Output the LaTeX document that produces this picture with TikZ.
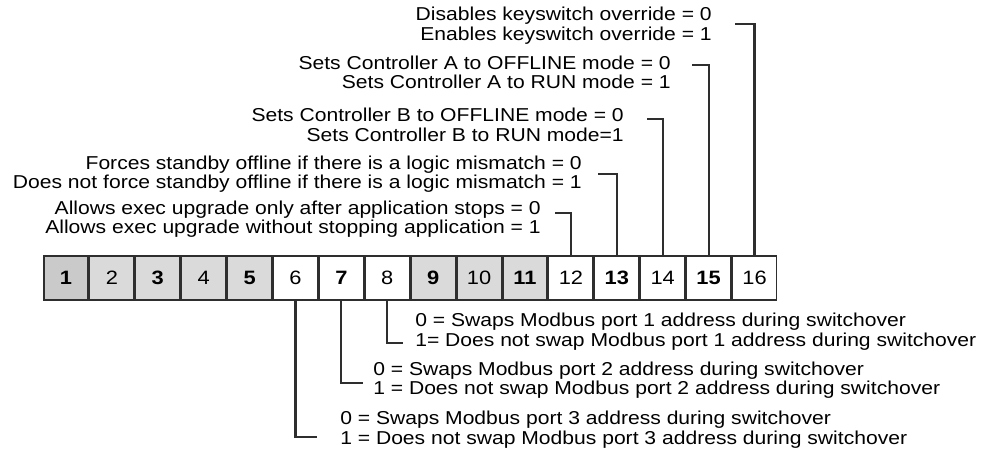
\documentclass[tikz,border=0pt]{standalone}
\usepackage{fontspec}
\setmainfont{Liberation Sans}[FakeStretch=1.13]
\usepackage{tikz}

\definecolor{bitgray}{HTML}{DADADA}
\definecolor{bitdark}{HTML}{CACACA}
\definecolor{wiregray}{HTML}{2E2E2E}

\begin{document}
\begin{tikzpicture}[x=0.75pt,y=-0.75pt,
        bit/.style = {rectangle, draw=wiregray, line width=1.1pt, fill=#1, minimum width=33.3pt, minimum height=33pt, inner sep=0pt, outer sep=0pt, font=\fontsize{14.5}{15}\selectfont},
        bit/.default = white,
        desc/.style = {inner sep=0pt, align=#1, font=\fontsize{14}{14.6}\selectfont},
        wire/.style = {draw=wiregray, line width=1.6pt},
    ]
    \useasboundingbox (0,0) rectangle (995,449);
    % bits
    \node[bit=bitdark] (c1) at (66.0,278) {\bfseries 1};
    \node[bit=bitgray] (c2) at (111.9,278) {2};
    \node[bit=bitgray] (c3) at (157.8,278) {\bfseries 3};
    \node[bit=bitgray] (c4) at (203.7,278) {4};
    \node[bit=bitgray] (c5) at (249.6,278) {\bfseries 5};
    \node[bit] (c6) at (295.5,278) {6};
    \node[bit] (c7) at (341.4,278) {\bfseries 7};
    \node[bit] (c8) at (387.3,278) {8};
    \node[bit=bitgray] (c9) at (433.2,278) {\bfseries 9};
    \node[bit=bitgray] (c10) at (479.1,278) {10};
    \node[bit=bitgray] (c11) at (525.0,278) {\bfseries 11};
    \node[bit] (c12) at (570.9,278) {12};
    \node[bit] (c13) at (616.8,278) {\bfseries 13};
    \node[bit] (c14) at (662.7,278) {14};
    \node[bit] (c15) at (708.6,278) {\bfseries 15};
    \node[bit] (c16) at (754.5,278) {16};
    % bit 16
    \node[desc=right,anchor=east] (t16) at (712,25.5) {Disables keyswitch override = 0\\Enables keyswitch override = 1};
    \coordinate (s16) at (735,24);
    \draw[wire] (c16.north) |- (s16);
    % bit 15
    \node[desc=right,anchor=east] (t15) at (671,72.5) {Sets Controller A to OFFLINE mode = 0\\Sets Controller A to RUN mode = 1};
    \coordinate (s15) at (692,65);
    \draw[wire] (c15.north) |- (s15);
    % bit 14
    \node[desc=right,anchor=east] (t14) at (624,125) {Sets Controller B to OFFLINE mode = 0\\Sets Controller B to RUN mode=1};
    \coordinate (s14) at (647,119);
    \draw[wire] (c14.north) |- (s14);
    % bit 13
    \node[desc=right,anchor=east] (t13) at (582,174) {Forces standby offline if there is a logic mismatch = 0\\Does not force standby offline if there is a logic mismatch = 1};
    \coordinate (s13) at (598,174);
    \draw[wire] (c13.north) |- (s13);
    % bit 12
    \node[desc=right,anchor=east] (t12) at (541,219) {Allows exec upgrade only after application stops = 0\\Allows exec upgrade without stopping application = 1};
    \coordinate (s12) at (555,213);
    \draw[wire] (c12.north) |- (s12);
    % bit 8
    \node[desc=left,anchor=west] (t8) at (415,331.5) {0 = Swaps Modbus port 1 address during switchover\\1= Does not swap Modbus port 1 address during switchover};
    \coordinate (s8) at (403,343);
    \draw[wire] (c8.south) |- (s8);
    % bit 7
    \node[desc=left,anchor=west] (t7) at (373,380) {0 = Swaps Modbus port 2 address during switchover\\1 = Does not swap Modbus port 2 address during switchover};
    \coordinate (s7) at (363,383);
    \draw[wire] (c7.south) |- (s7);
    % bit 6
    \node[desc=left,anchor=west] (t6) at (340,429.5) {0 = Swaps Modbus port 3 address during switchover\\1 = Does not swap Modbus port 3 address during switchover};
    \coordinate (s6) at (317,437);
    \draw[wire] (c6.south) |- (s6);
\end{tikzpicture}
\end{document}
